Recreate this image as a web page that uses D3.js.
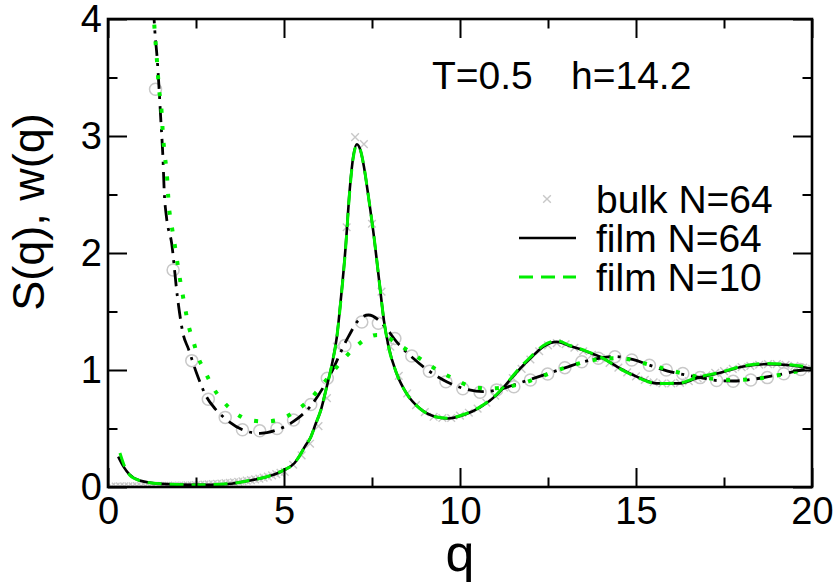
<!DOCTYPE html>
<html>
<head>
<meta charset="utf-8">
<script src="https://cdn.jsdelivr.net/npm/d3@7"></script>
<style>
  html, body { margin: 0; padding: 0; background: #fff; }
  svg text { font-family: "Liberation Sans", Arial, Helvetica, sans-serif; fill: #000; }
</style>
</head>
<body>
<svg id="chart" width="836" height="585"></svg>
<script>
// ---- data -------------------------------------------------------------
// S(q), film N=64 (solid black)
const filmS64_q = [0.29, 0.45, 0.6, 0.9, 1.5, 2.5, 3.4, 4.0, 4.6, 5.0, 5.3, 5.45, 5.6, 5.75, 5.9, 6.05, 6.2, 6.35, 6.5, 6.62, 6.75, 6.87, 6.97, 7.07, 7.17, 7.27, 7.4, 7.56, 7.72, 7.84, 7.97, 8.2, 8.48, 8.86, 9.3, 9.65, 10.1, 10.57, 11.05, 11.42, 11.7, 12.0, 12.37, 12.75, 13.12, 13.6, 14.07, 14.55, 15.02, 15.6, 16.25, 16.72, 17.39, 18.05, 18.71, 19.38, 20.0];
const filmS64_v = [0.26, 0.17, 0.11, 0.055, 0.027, 0.018, 0.026, 0.054, 0.095, 0.145, 0.205, 0.27, 0.35, 0.42, 0.54, 0.66, 0.84, 1.03, 1.28, 1.62, 2.05, 2.55, 2.83, 2.93, 2.88, 2.74, 2.48, 2.13, 1.72, 1.42, 1.2, 0.97, 0.8, 0.67, 0.6, 0.585, 0.615, 0.68, 0.79, 0.915, 1.01, 1.1, 1.2, 1.24, 1.205, 1.157, 1.1, 1.013, 0.943, 0.886, 0.886, 0.929, 0.977, 1.03, 1.05, 1.04, 1.01];

// S(q), film N=10 (dashed green)
const filmS10_q = [0.34, 0.48, 0.62, 0.9, 1.5, 2.5, 3.4, 4.0, 4.6, 5.0, 5.3, 5.45, 5.6, 5.75, 5.9, 6.05, 6.2, 6.35, 6.5, 6.62, 6.75, 6.87, 6.97, 7.07, 7.17, 7.27, 7.4, 7.56, 7.72, 7.84, 7.97, 8.2, 8.48, 8.86, 9.3, 9.65, 10.1, 10.57, 11.05, 11.42, 11.7, 12.0, 12.37, 12.75, 13.12, 13.6, 14.07, 14.55, 15.02, 15.6, 16.25, 16.72, 17.39, 18.05, 18.71, 19.38, 20.0];
const filmS10_v = [0.29, 0.17, 0.1, 0.055, 0.027, 0.018, 0.027, 0.055, 0.096, 0.146, 0.205, 0.27, 0.35, 0.42, 0.54, 0.66, 0.84, 1.03, 1.28, 1.61, 2.04, 2.54, 2.82, 2.92, 2.88, 2.74, 2.48, 2.13, 1.72, 1.42, 1.2, 0.97, 0.8, 0.67, 0.6, 0.588, 0.62, 0.685, 0.795, 0.92, 1.02, 1.11, 1.21, 1.25, 1.21, 1.16, 1.1, 1.01, 0.94, 0.885, 0.89, 0.935, 0.98, 1.035, 1.055, 1.045, 1.02];

// S(q), bulk N=64 (grey crosses)
const bulkS_q = [0.1, 0.22, 0.34, 0.46, 0.58, 0.7, 0.82, 0.94, 1.06, 1.18, 1.3, 1.42, 1.54, 1.66, 1.78, 1.9, 2.02, 2.14, 2.26, 2.38, 2.5, 2.62, 2.74, 2.86, 2.98, 3.1, 3.22, 3.34, 3.46, 3.58, 3.7, 3.82, 3.94, 4.06, 4.18, 4.3, 4.42, 4.54, 4.66, 4.78, 4.9, 5.02, 5.26, 5.5, 5.74, 5.98, 6.22, 6.5, 6.78, 7.02, 7.27, 7.5, 7.77, 8.02, 8.26, 8.5, 8.75, 9.0, 9.25, 9.5, 9.75, 10.0, 10.25, 10.5, 10.75, 11.0, 11.25, 11.5, 11.75, 12.0, 12.25, 12.5, 12.75, 13.0, 13.25, 13.5, 13.75, 14.0, 14.25, 14.5, 14.75, 15.0, 15.25, 15.5, 15.75, 16.0, 16.25, 16.5, 16.75, 17.0, 17.25, 17.5, 17.75, 18.0, 18.25, 18.5, 18.75, 19.0, 19.25, 19.5, 19.75, 20.0];
const bulkS_v = [0.004, 0.004, 0.005, 0.005, 0.006, 0.006, 0.007, 0.007, 0.008, 0.008, 0.009, 0.009, 0.01, 0.01, 0.011, 0.012, 0.012, 0.013, 0.014, 0.015, 0.016, 0.018, 0.02, 0.022, 0.024, 0.027, 0.03, 0.033, 0.036, 0.04, 0.044, 0.049, 0.054, 0.059, 0.065, 0.072, 0.08, 0.089, 0.099, 0.11, 0.122, 0.13, 0.19, 0.27, 0.37, 0.52, 0.76, 1.2, 2.22, 2.99, 2.93, 2.25, 1.67, 1.2, 0.95, 0.8, 0.7, 0.64, 0.6, 0.59, 0.59, 0.61, 0.635, 0.67, 0.72, 0.78, 0.85, 0.93, 1.01, 1.09, 1.16, 1.21, 1.23, 1.22, 1.19, 1.16, 1.13, 1.1, 1.06, 1.02, 0.98, 0.945, 0.915, 0.895, 0.885, 0.885, 0.89, 0.905, 0.93, 0.955, 0.975, 0.99, 1.01, 1.025, 1.035, 1.045, 1.05, 1.05, 1.045, 1.035, 1.02, 1.01];

// w(q), film N=64 (black dash-dot)
const filmW64_q = [1.29, 1.33, 1.4, 1.44, 1.5, 1.56, 1.6, 1.66, 1.81, 1.97, 2.14, 2.28, 2.52, 2.8, 3.04, 3.32, 3.84, 4.32, 4.79, 5.26, 5.74, 6.21, 6.83, 7.1, 7.4, 7.87, 8.2, 8.67, 9.15, 9.62, 10.09, 10.66, 11.23, 11.5, 12.0, 12.5, 13.0, 13.5, 13.95, 14.4, 14.9, 15.4, 15.9, 16.44, 16.9, 17.3, 17.76, 18.3, 18.8, 19.3, 19.7, 20.0];
const filmW64_v = [4.1, 3.9, 3.65, 3.46, 3.14, 2.82, 2.51, 2.31, 2.08, 1.63, 1.3, 1.185, 0.97, 0.77, 0.67, 0.587, 0.487, 0.458, 0.487, 0.558, 0.686, 0.9, 1.285, 1.42, 1.47, 1.37, 1.24, 1.1, 0.985, 0.9, 0.843, 0.815, 0.843, 0.87, 0.92, 0.97, 1.02, 1.07, 1.1, 1.115, 1.09, 1.04, 0.99, 0.957, 0.93, 0.91, 0.906, 0.92, 0.945, 0.975, 1.0, 1.01];

// w(q), film N=10 (green dotted)
const filmW10_q = [1.29, 1.31, 1.38, 1.45, 1.51, 1.57, 1.62, 1.67, 1.73, 1.8, 1.875, 1.95, 2.02, 2.1, 2.19, 2.28, 2.42, 2.56, 2.76, 2.97, 3.25, 3.59, 4.01, 4.49, 4.96, 5.38, 5.74, 6.07, 6.37, 6.67, 6.99, 7.38, 7.65, 7.87, 8.2, 8.67, 9.05, 9.43, 9.86, 10.33, 10.8, 11.28, 11.7, 12.2, 12.7, 13.2, 13.7, 14.2, 14.7, 15.2, 15.7, 16.2, 16.7, 17.2, 17.7, 18.2, 18.7, 19.2, 19.7, 20.0];
const filmW10_v = [4.1, 3.98, 3.69, 3.4, 3.26, 2.97, 2.82, 2.68, 2.4, 2.25, 2.11, 1.96, 1.82, 1.68, 1.53, 1.39, 1.25, 1.11, 0.985, 0.857, 0.74, 0.64, 0.573, 0.56, 0.587, 0.66, 0.75, 0.866, 0.977, 1.085, 1.185, 1.276, 1.3, 1.29, 1.23, 1.137, 1.06, 0.985, 0.92, 0.857, 0.843, 0.852, 0.88, 0.93, 0.99, 1.04, 1.08, 1.1, 1.095, 1.06, 1.02, 0.98, 0.945, 0.925, 0.915, 0.92, 0.937, 0.965, 0.995, 1.01];

// w(q), bulk N=64 (grey open circles)
const bulkW_q = [1.35, 1.85, 2.38, 2.85, 3.33, 3.82, 4.31, 4.8, 5.27, 5.76, 6.23, 6.73, 7.21, 7.68, 8.15, 8.63, 9.13, 9.6, 10.08, 10.57, 11.04, 11.53, 12.0, 12.49, 12.98, 13.46, 13.93, 14.4, 14.88, 15.38, 15.86, 16.33, 16.82, 17.29, 17.76, 18.26, 18.73, 19.2, 19.68];
const bulkW_v = [3.4, 1.855, 1.08, 0.75, 0.595, 0.49, 0.48, 0.5, 0.573, 0.705, 0.93, 1.21, 1.41, 1.4, 1.27, 1.12, 0.99, 0.9, 0.84, 0.81, 0.83, 0.857, 0.915, 0.966, 1.02, 1.07, 1.1, 1.114, 1.085, 1.04, 1.0, 0.97, 0.935, 0.91, 0.903, 0.915, 0.935, 0.968, 1.005];

// axes
const xTicks = [0, 5, 10, 15, 20];
const yTicks = [0, 1, 2, 3, 4];
const xMinor = [2.5, 7.5, 12.5, 17.5];
const yMinor = [0.5, 1.5, 2.5, 3.5];

const legendLabels = ["bulk N=64", "film N=64", "film N=10"];
const annotation = ["T=0.5", "h=14.2"];

// ---- layout -----------------------------------------------------------
const svg = d3.select("#chart");
const L = 108, R = 812, T = 19, B = 487;
const x = d3.scaleLinear().domain([0, 20]).range([L, R]);
const y = d3.scaleLinear().domain([0, 4]).range([B, T]);
const GREEN = "#00ee00";
const GREY = "#c8c8c8";
const FONT = "Liberation Sans, Arial, sans-serif";

svg.append("clipPath").attr("id", "plotClip")
  .append("rect").attr("x", L).attr("y", T).attr("width", R - L).attr("height", B - T);

const zip = (qs, vs) => qs.map((q, i) => ({ q, v: vs[i] }));
const line = d3.line().x(d => x(d.q)).y(d => y(d.v)).curve(d3.curveMonotoneX);

const plot = svg.append("g").attr("clip-path", "url(#plotClip)");

// bulk S(q) crosses
const cross = d3.symbol().type(d3.symbolX).size(40);
plot.append("g").selectAll("path").data(zip(bulkS_q, bulkS_v)).join("path")
  .attr("d", cross)
  .attr("transform", d => `translate(${x(d.q)},${y(d.v)})`)
  .attr("fill", "none").attr("stroke", GREY).attr("stroke-width", 1.4);

// bulk w(q) circles
plot.append("g").selectAll("circle").data(zip(bulkW_q, bulkW_v)).join("circle")
  .attr("cx", d => x(d.q)).attr("cy", d => y(d.v)).attr("r", 6)
  .attr("fill", "none").attr("stroke", GREY).attr("stroke-width", 1.5);

// w(q) film N=64, dash-dot
plot.append("path").datum(zip(filmW64_q, filmW64_v)).attr("d", line)
  .attr("fill", "none").attr("stroke", "#000").attr("stroke-width", 2.8)
  .attr("stroke-dasharray", "16,7,3,7");

// w(q) film N=10, dotted
plot.append("path").datum(zip(filmW10_q, filmW10_v)).attr("d", line)
  .attr("fill", "none").attr("stroke", GREEN).attr("stroke-width", 4)
  .attr("stroke-dasharray", "4,13");

// S(q) film N=64, solid
plot.append("path").datum(zip(filmS64_q, filmS64_v)).attr("d", line)
  .attr("fill", "none").attr("stroke", "#000").attr("stroke-width", 2.6);

// S(q) film N=10, dashed
plot.append("path").datum(zip(filmS10_q, filmS10_v)).attr("d", line)
  .attr("fill", "none").attr("stroke", GREEN).attr("stroke-width", 3)
  .attr("stroke-dasharray", "14,8");

// ---- axes -------------------------------------------------------------
const MAJ = 19, MIN = 9.5;
function styleAxis(g) {
  g.select(".domain").remove();
  g.selectAll(".tick line").attr("stroke", "#000").attr("stroke-width", 2);
}
svg.append("g").attr("transform", `translate(0,${B})`)
  .call(d3.axisBottom(x).tickValues(xTicks).tickSize(-MAJ).tickPadding(10).tickFormat(d3.format("d")))
  .call(styleAxis)
  .call(g => g.selectAll("text").attr("font-size", 38).attr("font-family", FONT));
svg.append("g").attr("transform", `translate(0,${B})`)
  .call(d3.axisBottom(x).tickValues(xMinor).tickSize(-MIN).tickFormat(""))
  .call(styleAxis);
svg.append("g").attr("transform", `translate(0,${T})`)
  .call(d3.axisTop(x).tickValues(xTicks).tickSize(-MAJ).tickFormat(""))
  .call(styleAxis);
svg.append("g").attr("transform", `translate(0,${T})`)
  .call(d3.axisTop(x).tickValues(xMinor).tickSize(-MIN).tickFormat(""))
  .call(styleAxis);
svg.append("g").attr("transform", `translate(${L},0)`)
  .call(d3.axisLeft(y).tickValues(yTicks).tickSize(-MAJ).tickPadding(6).tickFormat(d3.format("d")))
  .call(styleAxis)
  .call(g => g.selectAll("text").attr("font-size", 38).attr("font-family", FONT));
svg.append("g").attr("transform", `translate(${L},0)`)
  .call(d3.axisLeft(y).tickValues(yMinor).tickSize(-MIN).tickFormat(""))
  .call(styleAxis);
svg.append("g").attr("transform", `translate(${R},0)`)
  .call(d3.axisRight(y).tickValues(yTicks).tickSize(-MAJ).tickFormat(""))
  .call(styleAxis);
svg.append("g").attr("transform", `translate(${R},0)`)
  .call(d3.axisRight(y).tickValues(yMinor).tickSize(-MIN).tickFormat(""))
  .call(styleAxis);

// frame
svg.append("rect").attr("x", L).attr("y", T).attr("width", R - L).attr("height", B - T)
  .attr("fill", "none").attr("stroke", "#000").attr("stroke-width", 2.6);

// axis titles
svg.append("text").attr("x", (L + R) / 2).attr("y", 571).attr("text-anchor", "middle")
  .attr("font-size", 52).text("q");
svg.append("text").attr("transform", "translate(44,212) rotate(-90)")
  .attr("text-anchor", "middle").attr("font-size", 45).text("S(q), w(q)");

// annotation
svg.append("text").attr("x", 432).attr("y", 89).attr("font-size", 39).text(annotation[0]);
svg.append("text").attr("x", 571).attr("y", 89).attr("font-size", 39).text(annotation[1]);

// legend
const lg = svg.append("g");
const rowY = [199, 238, 277];
lg.append("path").attr("d", cross)
  .attr("transform", `translate(547,${rowY[0]})`)
  .attr("fill", "none").attr("stroke", GREY).attr("stroke-width", 1.4);
lg.append("line").attr("x1", 519).attr("x2", 576).attr("y1", rowY[1]).attr("y2", rowY[1])
  .attr("stroke", "#000").attr("stroke-width", 2.6);
lg.append("line").attr("x1", 519).attr("x2", 576).attr("y1", rowY[2]).attr("y2", rowY[2])
  .attr("stroke", GREEN).attr("stroke-width", 3).attr("stroke-dasharray", "14,8");
legendLabels.forEach((t, i) => {
  lg.append("text").attr("x", 596).attr("y", rowY[i] + 14).attr("font-size", 39).text(t);
});
</script>
</body>
</html>
